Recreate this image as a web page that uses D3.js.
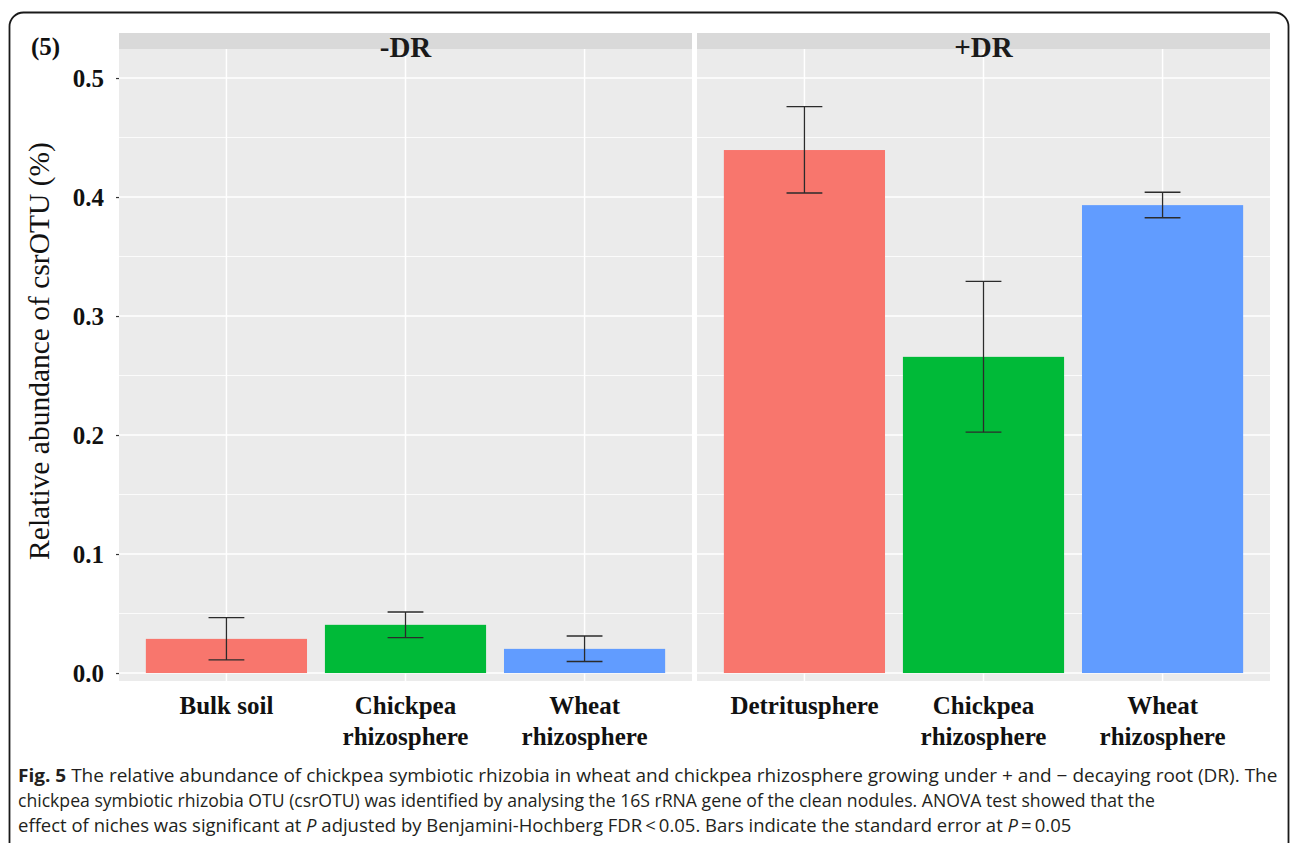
<!DOCTYPE html>
<html>
<head>
<meta charset="utf-8">
<script src="https://cdn.jsdelivr.net/npm/d3@7"></script>
<style>
  html, body { margin: 0; padding: 0; background: #fff; }
  svg { display: block; }
</style>
</head>
<body>
<svg id="chart" width="1290" height="843"></svg>
<script>
// Facets, niches and summary statistics (mean and standard-error bounds)
const facetNames = ["-DR", "+DR"];
const barFacet   = ["-DR", "-DR", "-DR", "+DR", "+DR", "+DR"];
const barNiche   = ["Bulk soil", "Chickpea rhizosphere", "Wheat rhizosphere",
                    "Detritusphere", "Chickpea rhizosphere", "Wheat rhizosphere"];
const barGroup   = ["soil", "chickpea", "wheat", "soil", "chickpea", "wheat"];
const barMean    = [0.0287, 0.0405, 0.0203, 0.4395, 0.2657, 0.3932];
const barLow     = [0.0110, 0.0297, 0.0097, 0.4034, 0.2024, 0.3826];
const barHigh    = [0.0465, 0.0513, 0.0311, 0.4759, 0.3292, 0.4040];
const groupNames  = ["soil", "chickpea", "wheat"];
const groupColors = ["#F8766D", "#00BA38", "#619CFF"];
const yTicks      = [0, 0.1, 0.2, 0.3, 0.4, 0.5];
const yMinorTicks = [0.05, 0.15, 0.25, 0.35, 0.45];
const yTitle = "Relative abundance of csrOTU (%)";

const svg = d3.select("#chart");
const serif = "'Liberation Serif', 'Times New Roman', serif";
const sans = "'Open Sans', 'Noto Sans', sans-serif";

// outer frame with rounded corners
svg.append("rect")
  .attr("x", 9.5).attr("y", 12.5)
  .attr("width", 1279).attr("height", 900)
  .attr("rx", 14).attr("ry", 14)
  .attr("fill", "none").attr("stroke", "#1a1a1a").attr("stroke-width", 1.8);

// panel geometry
const panelTop = 49, panelBottom = 681, stripTop = 33;
const panelRanges = [[119, 692], [697, 1270]];

const y = d3.scaleLinear().domain([-0.0067, 0.5244]).range([panelBottom, panelTop]);
const color = d3.scaleOrdinal().domain(groupNames).range(groupColors);

facetNames.forEach((facet, fi) => {
  const [x0, x1] = panelRanges[fi];
  const idx = d3.range(barFacet.length).filter(i => barFacet[i] === facet);
  const x = d3.scaleBand()
    .domain(idx.map(i => barNiche[i]))
    .range([x0, x1])
    .paddingInner(0.1).paddingOuter(0.15);
  const unit = x.step();
  const cx = n => x(n) + x.bandwidth() / 2;

  const g = svg.append("g");

  // panel background
  g.append("rect").attr("x", x0).attr("y", panelTop)
    .attr("width", x1 - x0).attr("height", panelBottom - panelTop)
    .attr("fill", "#EBEBEB");

  // minor horizontal grid
  g.selectAll(".minor").data(yMinorTicks).join("line")
    .attr("x1", x0).attr("x2", x1)
    .attr("y1", d => y(d)).attr("y2", d => y(d))
    .attr("stroke", "#fff").attr("stroke-width", 0.8);
  // major horizontal grid
  g.selectAll(".major").data(yTicks).join("line")
    .attr("x1", x0).attr("x2", x1)
    .attr("y1", d => y(d)).attr("y2", d => y(d))
    .attr("stroke", "#fff").attr("stroke-width", 1.5);
  // vertical grid
  g.selectAll(".vgrid").data(x.domain()).join("line")
    .attr("x1", d => cx(d)).attr("x2", d => cx(d))
    .attr("y1", panelTop).attr("y2", panelBottom)
    .attr("stroke", "#fff").attr("stroke-width", 1.5);

  // bars
  g.selectAll(".bar").data(idx).join("rect")
    .attr("x", i => x(barNiche[i]))
    .attr("width", x.bandwidth())
    .attr("y", i => y(barMean[i]))
    .attr("height", i => y(0) - y(barMean[i]))
    .attr("fill", i => color(barGroup[i]));

  // error bars
  const half = unit * 0.1;
  const eb = g.selectAll(".err").data(idx).join("g")
    .attr("stroke", "#2b2b2b").attr("stroke-width", 1.3).attr("fill", "none");
  eb.append("line")
    .attr("x1", i => cx(barNiche[i])).attr("x2", i => cx(barNiche[i]))
    .attr("y1", i => y(barLow[i])).attr("y2", i => y(barHigh[i]));
  eb.append("line")
    .attr("x1", i => cx(barNiche[i]) - half).attr("x2", i => cx(barNiche[i]) + half)
    .attr("y1", i => y(barHigh[i])).attr("y2", i => y(barHigh[i]));
  eb.append("line")
    .attr("x1", i => cx(barNiche[i]) - half).attr("x2", i => cx(barNiche[i]) + half)
    .attr("y1", i => y(barLow[i])).attr("y2", i => y(barLow[i]));

  // strip
  g.append("rect").attr("x", x0).attr("y", stripTop)
    .attr("width", x1 - x0).attr("height", panelTop - stripTop)
    .attr("fill", "#D9D9D9");
  g.append("text")
    .attr("x", (x0 + x1) / 2).attr("y", 57)
    .attr("text-anchor", "middle")
    .attr("font-family", serif).attr("font-weight", "bold")
    .attr("font-size", 29).attr("fill", "#1a1a1a")
    .text(facet);

  // x tick labels (wrapped onto two lines)
  const xl = g.selectAll(".xlab").data(idx).join("text")
    .attr("text-anchor", "middle")
    .attr("font-family", serif).attr("font-weight", "bold")
    .attr("font-size", 25).attr("fill", "#111");
  xl.each(function(i) {
    const words = barNiche[i].split(" ");
    const lines = words.length > 1 && barNiche[i] !== "Bulk soil"
      ? [words[0], words.slice(1).join(" ")] : [barNiche[i]];
    lines.forEach((ln, k) => {
      d3.select(this).append("tspan")
        .attr("x", cx(barNiche[i]))
        .attr("y", 714 + k * 31)
        .text(ln);
    });
  });

  // y axis on the left panel only
  if (fi === 0) {
    const axis = d3.axisLeft(y).tickValues(yTicks).tickFormat(d3.format(".1f"))
      .tickSize(3).tickPadding(12);
    const ga = svg.append("g").attr("transform", `translate(${x0},0)`).call(axis);
    ga.select(".domain").remove();
    ga.selectAll(".tick line").attr("stroke", "#333").attr("stroke-width", 1.2);
    ga.selectAll(".tick text")
      .attr("font-family", serif).attr("font-weight", "bold")
      .attr("font-size", 25).attr("fill", "#111")
      .attr("dy", "0.34em");
  }
});

// y axis title, sized to span its allotted height
const yt = svg.append("text")
  .attr("text-anchor", "middle")
  .attr("font-family", serif).attr("font-size", 24).attr("fill", "#111")
  .attr("transform", "translate(49,351) rotate(-90)")
  .text(yTitle);
const ytLen = yt.node().getComputedTextLength();
yt.attr("font-size", 24 * 418 / ytLen);

// panel tag
svg.append("text")
  .attr("x", 31).attr("y", 55)
  .attr("font-family", serif).attr("font-weight", "bold")
  .attr("font-size", 25).attr("fill", "#111")
  .text("(5)");

// caption: each line fitted to its measured width
const captionLines = [
  { width: 1260, baseline: 782, parts: [
    { t: "Fig. 5", b: true },
    { t: " The relative abundance of chickpea symbiotic rhizobia in wheat and chickpea rhizosphere growing under + and \u2212 decaying root (DR). The" } ] },
  { width: 1138, baseline: 807, parts: [
    { t: "chickpea symbiotic rhizobia OTU (csrOTU) was identified by analysing the 16S rRNA gene of the clean nodules. ANOVA test showed that the" } ] },
  { width: 1054, baseline: 832, parts: [
    { t: "effect of niches was significant at " },
    { t: "P", i: true },
    { t: " adjusted by Benjamini-Hochberg FDR\u2009<\u20090.05. Bars indicate the standard error at " },
    { t: "P", i: true },
    { t: "\u2009=\u20090.05" } ] }
];
captionLines.forEach(line => {
  const t = svg.append("text")
    .attr("font-family", sans).attr("font-size", 17.5).attr("fill", "#231f20");
  line.parts.forEach(p => {
    t.append("tspan")
      .attr("font-weight", p.b ? "bold" : null)
      .attr("font-style", p.i ? "italic" : null)
      .text(p.t);
  });
  const w = t.node().getComputedTextLength();
  const sx = line.width / w;
  t.attr("transform", `translate(18,${line.baseline}) scale(${sx},1)`);
});
</script>
</body>
</html>
